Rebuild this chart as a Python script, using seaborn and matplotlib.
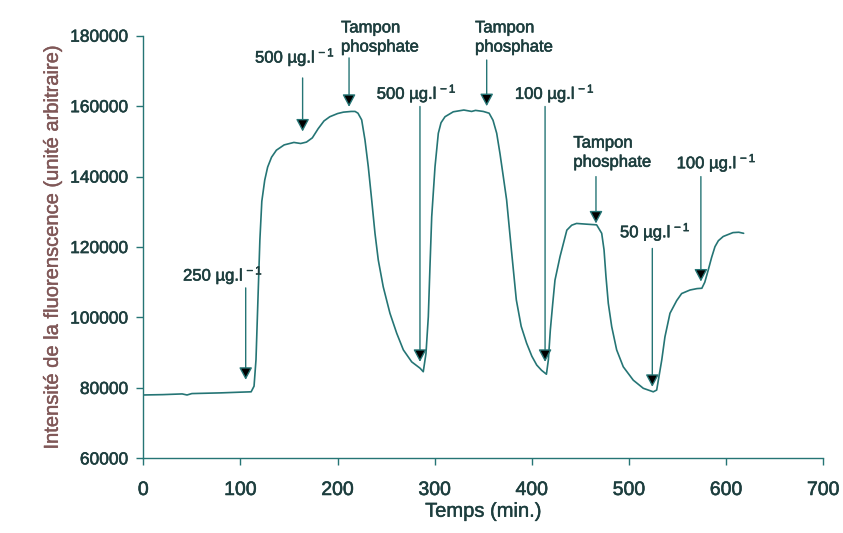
import numpy as np
import pandas as pd
import matplotlib
matplotlib.use("Agg")
import matplotlib.pyplot as plt
import matplotlib.patheffects as pe
import seaborn as sns

# fluorescence trace (time in min, intensity a.u.)
temps = [0, 20, 40, 45, 50, 80, 100, 111, 114, 116, 118, 120, 122, 125, 128,
         132, 137, 145, 155, 162, 168, 174, 180, 186, 192, 200, 206, 214, 218,
         221, 224.8, 228.2, 231.6, 235.1, 238.5, 241.9, 247, 253.9, 260.9,
         267.7, 276.3, 284.9, 288.2, 291, 293.4, 295.1, 296.9, 300.3, 303.7,
         306.5, 310.6, 319.1, 330, 338, 342, 350, 356, 360, 363.8, 367.2,
         370.6, 374, 379, 384, 389, 394.6, 400, 405, 410, 415, 417, 419, 421.5,
         423.8, 429, 436, 441, 446, 456, 466.7, 471.9, 474.3, 476.3, 478.7,
         482.2, 487.3, 494.1, 504.4, 514.7, 525, 528.5, 533.7, 537, 542.2,
         549.1, 554.2, 562.8, 570, 575, 578, 581.6, 585, 588.5, 592, 597, 607,
         613, 618]
intensite = [78000, 78100, 78300, 78000, 78400, 78600, 78800, 78900, 80500,
             88000, 105000, 122000, 133000, 139000, 142700, 145500, 147500,
             149000, 149700, 149400, 149800, 151000, 153600, 155800, 157000,
             157900, 158300, 158500, 158500, 158000, 156100, 150400, 142800,
             133400, 123900, 116300, 108700, 101200, 95500, 90800, 87400, 85600,
             84600, 89800, 100200, 114400, 128600, 142800, 152300, 155300,
             157000, 158400, 158900, 158500, 158800, 158500, 158000, 156000,
             152300, 146500, 140000, 133400, 119000, 105000, 97500, 92700,
             89000, 86500, 85000, 83900, 88000, 96400, 104000, 110600, 117300,
             124800, 126200, 126700, 126500, 126300, 123900, 119200, 111600,
             104000, 97400, 90800, 86000, 82200, 79900, 78900, 79400, 87900,
             94500, 101200, 104800, 106800, 107800, 108200, 108300, 110000,
             113500, 117000, 120100, 121800, 123000, 124100, 124200, 123900]

# injections: label, arrow time, arrow top, arrow tip, label anchor (left, centre)
labels = ["250 µg.l$^{\\,-1}$", "500 µg.l$^{\\,-1}$", "Tampon\nphosphate",
          "500 µg.l$^{\\,-1}$", "Tampon\nphosphate", "100 µg.l$^{\\,-1}$",
          "Tampon\nphosphate", "50 µg.l$^{\\,-1}$", "100 µg.l$^{\\,-1}$"]
arrow_t = [105.4, 164, 211.8, 284.8, 353.5, 413.6, 466, 524, 574]
arrow_top = [108400, 168000, 173700, 159900, 173100, 159900, 140000, 119600, 140000]
arrow_tip = [82300, 152800, 159800, 87400, 160000, 87400, 126700, 80300, 110200]
label_t = [40.9, 115, 203.5, 240.3, 341.5, 382.5, 442.7, 490.7, 549]
label_v = [112100, 174000, 179500, 163700, 179500, 163700, 146800, 124400, 144000]

xticks = [0, 100, 200, 300, 400, 500, 600, 700]
yticks = [60000, 80000, 100000, 120000, 140000, 160000, 180000]

teal = "#257575"
txt = "#1d3e3e"
ylab_col = "#805858"

sns.set_style("white")
plt.rcParams['font.family'] = ['Liberation Sans', 'DejaVu Sans']
plt.rcParams['mathtext.fontset'] = 'custom'
plt.rcParams['mathtext.rm'] = 'Liberation Sans'
plt.rcParams['mathtext.it'] = 'Liberation Sans:italic'

df = pd.DataFrame({"Temps": temps, "Intensite": intensite})

fig = plt.figure(figsize=(8.43, 5.33), dpi=100)
ax = fig.add_axes([0.170, 0.140, 0.8066, 0.793])
sns.lineplot(data=df, x="Temps", y="Intensite", ax=ax, color=teal, lw=1.2)

thick = [pe.withStroke(linewidth=0.4, foreground=txt)]
for lab, t, top, tip, lt, lv in zip(labels, arrow_t, arrow_top, arrow_tip, label_t, label_v):
    ax.annotate("", xy=(t, tip), xytext=(t, top),
                arrowprops=dict(arrowstyle="-|>,head_length=0.75,head_width=0.4",
                                color=teal, fc="black", ec=teal, lw=1,
                                shrinkA=0, shrinkB=0, mutation_scale=10))
    ax.text(lt, lv, lab, ha="left", va="center", fontsize=12, color=txt,
            multialignment="left", linespacing=1.35, path_effects=thick)

ax.set_xlim(0, 700)
ax.set_ylim(60000, 180000)
ax.set_xticks(xticks)
ax.set_yticks(yticks)
ax.tick_params(axis="y", direction="out", length=5, width=1, color=teal,
               labelsize=12.5, labelcolor=txt, pad=6, left=True)
ax.tick_params(axis="x", direction="out", length=5, width=1, color=teal,
               labelsize=14, labelcolor=txt, pad=12, bottom=True)
for lbl in ax.get_xticklabels() + ax.get_yticklabels():
    lbl.set_path_effects([pe.withStroke(linewidth=0.4, foreground=txt)])
for s in ["top", "right"]:
    ax.spines[s].set_visible(False)
for s in ["left", "bottom"]:
    ax.spines[s].set_color(teal)
    ax.spines[s].set_linewidth(1)
ax.set_xlabel("Temps (min.)", fontsize=14.5, color=txt, labelpad=2,
              path_effects=[pe.withStroke(linewidth=0.3, foreground=txt)])
ax.set_ylabel("Intensité de la fluorenscence (unité arbitraire)", fontsize=14.5,
              color=ylab_col, labelpad=6,
              path_effects=[pe.withStroke(linewidth=0.3, foreground=ylab_col)])

fig.savefig("out.png", dpi=100)
